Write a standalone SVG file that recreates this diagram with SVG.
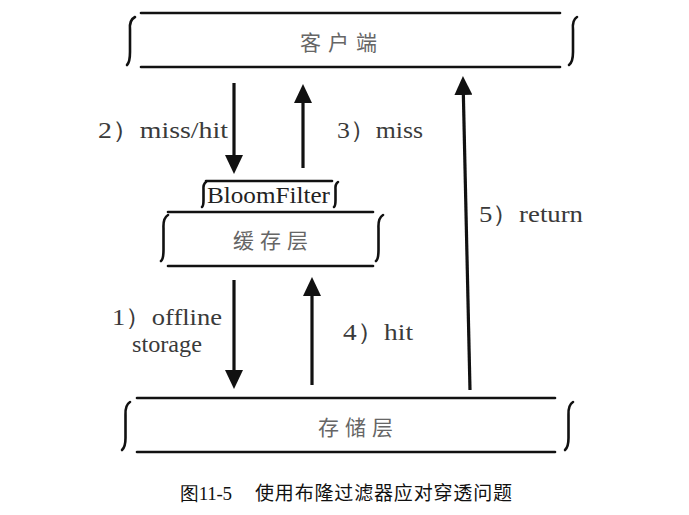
<svg xmlns="http://www.w3.org/2000/svg" width="689" height="515" viewBox="0 0 689 515">
<style>
.edge{stroke:#111;stroke-width:2.6;fill:none;stroke-linecap:round}
.brace{stroke:#111;stroke-width:2.6;fill:none;stroke-linecap:round}
.arrow{stroke:#111;stroke-width:3.2;fill:none}
</style>
<defs>
<marker id="ah" markerUnits="userSpaceOnUse" markerWidth="19" markerHeight="18" viewBox="0 0 19 18" refX="12" refY="9" orient="auto">
<path d="M0,0 L19,9 L0,18 z" fill="#111"/>
</marker>
</defs>
<rect width="689" height="515" fill="#fff"/>

<g id="client">
<line class="edge" x1="141" y1="13" x2="560" y2="13"/>
<line class="edge" x1="141" y1="67" x2="560" y2="67"/>
<path class="brace" d="M135,17 Q129,20 130,30 L130,52 Q130,62 127,65"/>
<path class="brace" d="M577,17 Q572,20 573,30 L573,52 Q573,62 569,65"/>
<text x="300" y="50" textLength="77" font-family="Noto Sans CJK SC, sans-serif" font-size="21" fill="#666">客户端</text>
</g>

<g id="bloomfilter">
<line class="edge" x1="206" y1="181" x2="332" y2="181"/>
<path class="brace" d="M206,182 Q203,184 203.5,190 L203.5,200 Q203.5,206 202,207"/>
<path class="brace" d="M338,182 Q335,184 335.5,190 L335.5,200 Q335.5,206 334,207"/>
<text x="207" y="203" textLength="123" lengthAdjust="spacingAndGlyphs" font-family="Liberation Serif, serif" font-size="23" fill="#222">BloomFilter</text>
</g>

<g id="cache">
<line class="edge" x1="168" y1="212" x2="373" y2="212"/>
<line class="edge" x1="168" y1="266" x2="373" y2="266"/>
<path class="brace" d="M168,215 Q163,218 163.5,228 L163.5,250 Q163.5,259 161,261"/>
<path class="brace" d="M383,215 Q378,218 378.5,228 L378.5,250 Q378.5,259 376,261"/>
<text x="233" y="248" textLength="75" font-family="Noto Sans CJK SC, sans-serif" font-size="21" fill="#666">缓存层</text>
</g>

<g id="storage">
<line class="edge" x1="137" y1="398" x2="555" y2="398"/>
<line class="edge" x1="137" y1="452" x2="555" y2="452"/>
<path class="brace" d="M130,402 Q125,405 125.5,415 L125.5,438 Q125.5,447 122,450"/>
<path class="brace" d="M573,402 Q568,405 568.5,415 L568.5,438 Q568.5,447 565,450"/>
<text x="318" y="435" textLength="75" font-family="Noto Sans CJK SC, sans-serif" font-size="21" fill="#666">存储层</text>
</g>

<g id="connectors">
<line class="arrow" x1="234" y1="83" x2="234" y2="167" marker-end="url(#ah)"/>
<line class="arrow" x1="303" y1="168" x2="303" y2="91" marker-end="url(#ah)"/>
<line class="arrow" x1="234" y1="280" x2="234" y2="382" marker-end="url(#ah)"/>
<line class="arrow" x1="312" y1="385" x2="312" y2="284" marker-end="url(#ah)"/>
<line class="arrow" x1="470" y1="390" x2="463.1" y2="83" marker-end="url(#ah)"/>
<text x="98" y="138" textLength="130" lengthAdjust="spacingAndGlyphs" font-family="Liberation Serif, serif" font-size="24" fill="#3a3a3a">2）miss/hit</text>
<text x="337" y="138" textLength="86" lengthAdjust="spacingAndGlyphs" font-family="Liberation Serif, serif" font-size="24" fill="#3a3a3a">3）miss</text>
<text x="112" y="325" textLength="110" lengthAdjust="spacingAndGlyphs" font-family="Liberation Serif, serif" font-size="24" fill="#3a3a3a">1）offline</text>
<text x="132" y="352" textLength="70" lengthAdjust="spacingAndGlyphs" font-family="Liberation Serif, serif" font-size="24" fill="#3a3a3a">storage</text>
<text x="343" y="340" textLength="70" lengthAdjust="spacingAndGlyphs" font-family="Liberation Serif, serif" font-size="24" fill="#3a3a3a">4）hit</text>
<text x="479" y="222" textLength="104" lengthAdjust="spacingAndGlyphs" font-family="Liberation Serif, serif" font-size="24" fill="#3a3a3a">5）return</text>
</g>

<g id="caption">
<text x="180" y="500" textLength="52" font-family="Liberation Serif, serif" font-size="19" fill="#111">图11-5</text>
<text x="255" y="500" textLength="257" font-family="Noto Sans CJK SC, sans-serif" font-size="19" fill="#111">使用布隆过滤器应对穿透问题</text>
</g>
</svg>
